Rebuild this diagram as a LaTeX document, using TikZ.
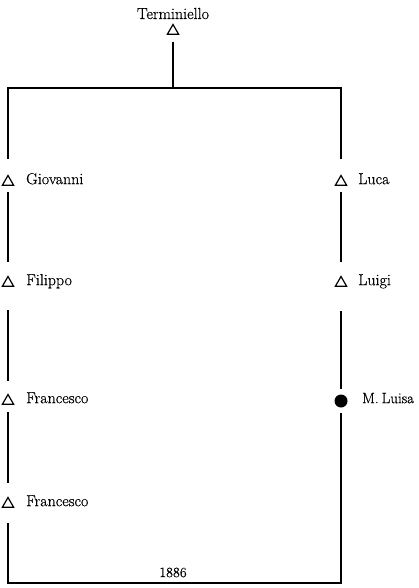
\documentclass[tikz,border=0pt]{standalone}
\usepackage{fontspec}
\newfontfamily\pfont{Latin Modern Roman}[FakeBold=0.5]
\usetikzlibrary{shapes.geometric}
\begin{document}
\begin{tikzpicture}[x=1pt,y=-1pt,
  tri/.style={regular polygon, regular polygon sides=3, draw, line width=1.2pt, minimum size=13pt, inner sep=0pt},
  dotp/.style={circle, fill, minimum size=13pt, inner sep=0pt},
  lbl/.style={anchor=mid west, inner sep=0pt, font=\pfont\fontsize{16}{18}\selectfont},
  ln/.style={line width=1.6pt}]
\useasboundingbox (0,0) rectangle (418,588);
% top
\node[anchor=base, inner sep=0pt, font=\pfont\fontsize{16}{18}\selectfont] (tn) at (173,19) {Terminiello};
\node[tri] (t) at (173,31) {};
\coordinate (tl) at (8,88);
\coordinate (tr) at (341,88);
\coordinate (bl) at (8,583);
\coordinate (br) at (341,583);
% left line
\node[tri] (g) at (8,182) {};
\node[lbl] (gl) at (26,182) {Giovanni};
\node[tri] (f) at (8,283) {};
\node[lbl] (fl) at (26,283) {Filippo};
\node[tri] (fa) at (8,401) {};
\node[lbl] (fal) at (26,401) {Francesco};
\node[tri] (fb) at (8,504) {};
\node[lbl] (fbl) at (26,504) {Francesco};
% right line
\node[tri] (lu) at (341,182) {};
\node[lbl] (lul) at (358,182) {Luca};
\node[tri] (li) at (341,283) {};
\node[lbl] (lil) at (358,283) {Luigi};
\node[dotp] (ml) at (341,401) {};
\node[lbl, font=\pfont\fontsize{15}{18}\selectfont] (mll) at (362,401) {M.\hspace{3pt}Luisa};
% year
\node[anchor=base, inner sep=0pt, font=\pfont\fontsize{14}{16}\selectfont] (yr) at (173,577) {1886};
% connectors
\draw[ln, shorten <=11pt] (t.center) -- (tl -| t);
\draw[ln, line join=miter] ([yshift=23pt]g.center) -- (tl) -- (tr) -- ([yshift=23pt]lu.center);
\draw[ln, shorten <=10pt, shorten >=21pt] (g.center) -- (f.center);
\draw[ln, shorten <=27pt, shorten >=20pt] (f.center) -- (fa.center);
\draw[ln, shorten <=11pt, shorten >=21pt] (fa.center) -- (fb.center);
\draw[ln, shorten <=10pt, shorten >=21pt] (lu.center) -- (li.center);
\draw[ln, shorten <=28pt, shorten >=12pt] (li.center) -- (ml.center);
\draw[ln, line join=miter] ([yshift=-19pt]fb.center) -- (bl) -- (br) -- ([yshift=-12pt]ml.center);
\end{tikzpicture}
\end{document}
